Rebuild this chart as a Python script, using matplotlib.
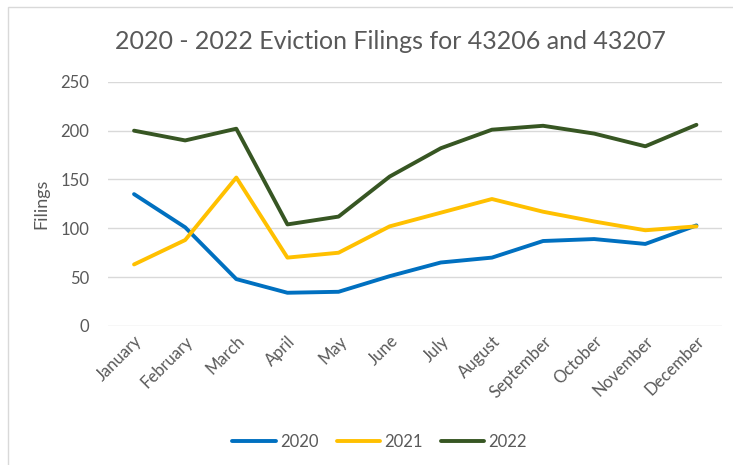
import matplotlib.pyplot as plt
from matplotlib.patches import Rectangle

months = ['January', 'February', 'March', 'April', 'May', 'June', 'July',
          'August', 'September', 'October', 'November', 'December']
filings_2020 = [135, 101, 48, 34, 35, 51, 65, 70, 87, 89, 84, 103]
filings_2021 = [63, 88, 152, 70, 75, 102, 116, 130, 117, 107, 98, 102]
filings_2022 = [200, 190, 202, 104, 112, 153, 182, 201, 205, 197, 184, 206]

plt.rcParams['font.family'] = ['Lato', 'DejaVu Sans']
grey = '#595959'

fig = plt.figure(figsize=(7.33, 4.65), dpi=100)
# light chart border like the spreadsheet frame
fig.patches.append(Rectangle((0.011, -0.01), 1.0, 0.995, transform=fig.transFigure,
                             fill=False, edgecolor='#d9d9d9', linewidth=1))
ax = fig.add_axes([0.148, 0.299, 0.837, 0.525])

x = range(len(months))
ax.plot(x, filings_2020, color='#0070c0', lw=2.8, label='2020', solid_capstyle='round')
ax.plot(x, filings_2021, color='#ffc000', lw=2.8, label='2021', solid_capstyle='round')
ax.plot(x, filings_2022, color='#375623', lw=2.8, label='2022', solid_capstyle='round')

ax.set_xlim(-0.5, len(months) - 0.5)
ax.set_ylim(0, 250)
ax.set_yticks(range(0, 251, 50))
ax.set_xticks(list(x))
ax.set_xticklabels(months, rotation=45, ha='right', rotation_mode='anchor')
ax.tick_params(axis='both', length=0, labelsize=12, colors=grey)
ax.tick_params(axis='y', pad=14)
ax.tick_params(axis='x', pad=5)
ax.grid(axis='y', color='#d9d9d9', lw=1)
ax.set_axisbelow(True)
for s in ax.spines.values():
    s.set_visible(False)

ax.set_ylabel('Filings', fontsize=13, color=grey, labelpad=8)
fig.text(0.532, 0.91, '2020 - 2022 Eviction Filings for 43206 and 43207',
         ha='center', va='center', fontsize=18, color=grey)

fig.legend(loc='center', bbox_to_anchor=(0.518, 0.05), ncol=3, frameon=False,
           fontsize=12, handlelength=2.6, handletextpad=0.25, columnspacing=1.1,
           labelcolor=grey)

fig.savefig('out.png', dpi=100)
